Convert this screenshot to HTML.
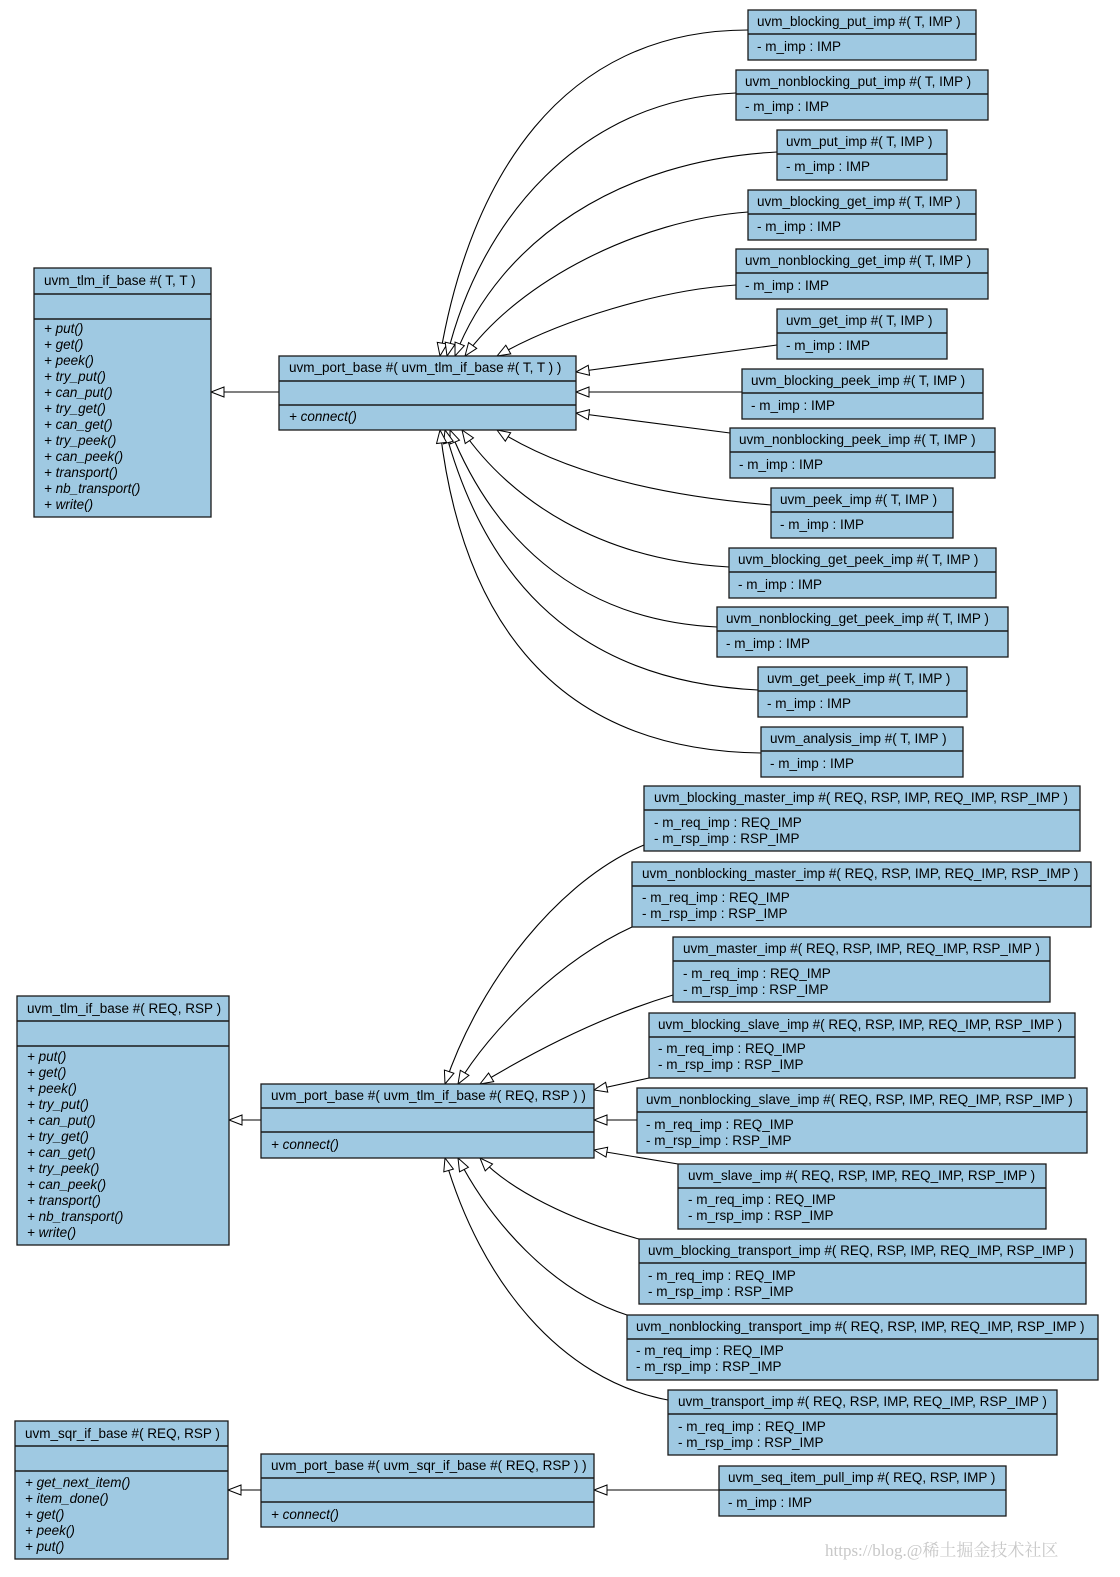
<!DOCTYPE html>
<html><head><meta charset="utf-8"><style>
html,body{margin:0;padding:0;background:#fff;}
svg{display:block;}
text{font-family:"Liberation Sans",sans-serif;font-size:13.5px;fill:#000;}
.i{font-style:italic;}
rect{fill:#9fc9e2;stroke:#1a1a1a;stroke-width:1.3;}
line.d{stroke:#1a1a1a;stroke-width:1.6;}
path.e{fill:none;stroke:#000;stroke-width:1.1;marker-end:url(#tri);}
</style></head><body>
<svg width="1120" height="1577" viewBox="0 0 1120 1577" xmlns="http://www.w3.org/2000/svg">
<defs>
<marker id="tri" markerUnits="userSpaceOnUse" markerWidth="16" markerHeight="14" refX="14" refY="6" orient="auto">
<path d="M1,1 L14,6 L1,11 Z" fill="#fff" stroke="#000" stroke-width="1"/>
</marker>
</defs>

<path class="e" d="M748,30 C560,30 470,180 440,356"/>
<path class="e" d="M736,93 C580,100 480,220 447,356"/>
<path class="e" d="M777,152 C620,160 500,240 455,356"/>
<path class="e" d="M748,212 C640,220 520,280 465,356"/>
<path class="e" d="M736,285 C660,290 560,320 497,356"/>
<path class="e" d="M777,345 L576,372"/>
<path class="e" d="M742,392 L576,392"/>
<path class="e" d="M730,433 L576,413"/>
<path class="e" d="M771,505 C650,495 560,470 497,430"/>
<path class="e" d="M729,567 C600,560 510,500 462,430"/>
<path class="e" d="M717,627 C570,620 490,530 450,430"/>
<path class="e" d="M758,690 C560,680 480,560 445,430"/>
<path class="e" d="M761,753 C540,750 460,600 440,430"/>
<path class="e" d="M279,392 L211,392"/>

<path class="e" d="M644,845 C560,880 480,980 445,1084"/>
<path class="e" d="M632,927 C560,960 490,1030 458,1084"/>
<path class="e" d="M673,995 C590,1020 520,1060 480,1084"/>
<path class="e" d="M649,1078 L594,1090"/>
<path class="e" d="M637,1120 L594,1120"/>
<path class="e" d="M678,1164 L594,1150"/>
<path class="e" d="M639,1239 C570,1220 510,1190 480,1158"/>
<path class="e" d="M627,1315 C550,1290 490,1220 458,1158"/>
<path class="e" d="M668,1400 C560,1380 480,1280 445,1158"/>
<path class="e" d="M261,1120 L229,1120"/>

<path class="e" d="M261,1490 L228,1490"/>
<path class="e" d="M719,1490 L594,1490"/>

<rect x="34" y="268" width="177" height="249"/>
<line class="d" x1="34" y1="294" x2="211" y2="294"/><line class="d" x1="34" y1="319" x2="211" y2="319"/>
<text x="44" y="285">uvm_tlm_if_base #( T, T )</text>
<text class="i" x="44" y="333">+ put()</text><text class="i" x="44" y="349">+ get()</text><text class="i" x="44" y="365">+ peek()</text><text class="i" x="44" y="381">+ try_put()</text><text class="i" x="44" y="397">+ can_put()</text><text class="i" x="44" y="413">+ try_get()</text><text class="i" x="44" y="429">+ can_get()</text><text class="i" x="44" y="445">+ try_peek()</text><text class="i" x="44" y="461">+ can_peek()</text><text class="i" x="44" y="477">+ transport()</text><text class="i" x="44" y="493">+ nb_transport()</text><text class="i" x="44" y="509">+ write()</text>

<rect x="279" y="356" width="297" height="74"/>
<line class="d" x1="279" y1="381" x2="576" y2="381"/><line class="d" x1="279" y1="405" x2="576" y2="405"/>
<text x="289" y="372">uvm_port_base #( uvm_tlm_if_base #( T, T ) )</text>
<text class="i" x="289" y="421">+ connect()</text>

<g>
<rect x="748" y="10" width="228" height="50"/><line class="d" x1="748" y1="34" x2="976" y2="34"/><text x="757" y="26">uvm_blocking_put_imp #( T, IMP )</text><text x="757" y="51">- m_imp : IMP</text>
<rect x="736" y="70" width="252" height="50"/><line class="d" x1="736" y1="94" x2="988" y2="94"/><text x="745" y="86">uvm_nonblocking_put_imp #( T, IMP )</text><text x="745" y="111">- m_imp : IMP</text>
<rect x="777" y="130" width="170" height="50"/><line class="d" x1="777" y1="154" x2="947" y2="154"/><text x="786" y="146">uvm_put_imp #( T, IMP )</text><text x="786" y="171">- m_imp : IMP</text>
<rect x="748" y="190" width="228" height="50"/><line class="d" x1="748" y1="214" x2="976" y2="214"/><text x="757" y="206">uvm_blocking_get_imp #( T, IMP )</text><text x="757" y="231">- m_imp : IMP</text>
<rect x="736" y="249" width="252" height="50"/><line class="d" x1="736" y1="273" x2="988" y2="273"/><text x="745" y="265">uvm_nonblocking_get_imp #( T, IMP )</text><text x="745" y="290">- m_imp : IMP</text>
<rect x="777" y="309" width="170" height="50"/><line class="d" x1="777" y1="333" x2="947" y2="333"/><text x="786" y="325">uvm_get_imp #( T, IMP )</text><text x="786" y="350">- m_imp : IMP</text>
<rect x="742" y="369" width="241" height="50"/><line class="d" x1="742" y1="393" x2="983" y2="393"/><text x="751" y="385">uvm_blocking_peek_imp #( T, IMP )</text><text x="751" y="410">- m_imp : IMP</text>
<rect x="730" y="428" width="265" height="50"/><line class="d" x1="730" y1="452" x2="995" y2="452"/><text x="739" y="444">uvm_nonblocking_peek_imp #( T, IMP )</text><text x="739" y="469">- m_imp : IMP</text>
<rect x="771" y="488" width="182" height="50"/><line class="d" x1="771" y1="512" x2="953" y2="512"/><text x="780" y="504">uvm_peek_imp #( T, IMP )</text><text x="780" y="529">- m_imp : IMP</text>
<rect x="729" y="548" width="267" height="50"/><line class="d" x1="729" y1="572" x2="996" y2="572"/><text x="738" y="564">uvm_blocking_get_peek_imp #( T, IMP )</text><text x="738" y="589">- m_imp : IMP</text>
<rect x="717" y="607" width="291" height="50"/><line class="d" x1="717" y1="631" x2="1008" y2="631"/><text x="726" y="623">uvm_nonblocking_get_peek_imp #( T, IMP )</text><text x="726" y="648">- m_imp : IMP</text>
<rect x="758" y="667" width="209" height="50"/><line class="d" x1="758" y1="691" x2="967" y2="691"/><text x="767" y="683">uvm_get_peek_imp #( T, IMP )</text><text x="767" y="708">- m_imp : IMP</text>
<rect x="761" y="727" width="202" height="50"/><line class="d" x1="761" y1="751" x2="963" y2="751"/><text x="770" y="743">uvm_analysis_imp #( T, IMP )</text><text x="770" y="768">- m_imp : IMP</text>
</g>

<rect x="17" y="996" width="212" height="249"/>
<line class="d" x1="17" y1="1021" x2="229" y2="1021"/><line class="d" x1="17" y1="1046" x2="229" y2="1046"/>
<text x="27" y="1013">uvm_tlm_if_base #( REQ, RSP )</text>
<text class="i" x="27" y="1061">+ put()</text><text class="i" x="27" y="1077">+ get()</text><text class="i" x="27" y="1093">+ peek()</text><text class="i" x="27" y="1109">+ try_put()</text><text class="i" x="27" y="1125">+ can_put()</text><text class="i" x="27" y="1141">+ try_get()</text><text class="i" x="27" y="1157">+ can_get()</text><text class="i" x="27" y="1173">+ try_peek()</text><text class="i" x="27" y="1189">+ can_peek()</text><text class="i" x="27" y="1205">+ transport()</text><text class="i" x="27" y="1221">+ nb_transport()</text><text class="i" x="27" y="1237">+ write()</text>

<rect x="261" y="1084" width="333" height="74"/>
<line class="d" x1="261" y1="1108" x2="594" y2="1108"/><line class="d" x1="261" y1="1132" x2="594" y2="1132"/>
<text x="271" y="1100">uvm_port_base #( uvm_tlm_if_base #( REQ, RSP ) )</text>
<text class="i" x="271" y="1149">+ connect()</text>

<g>
<rect x="644" y="786" width="436" height="65"/><line class="d" x1="644" y1="810" x2="1080" y2="810"/><text x="654" y="802">uvm_blocking_master_imp #( REQ, RSP, IMP, REQ_IMP, RSP_IMP )</text><text x="654" y="827">- m_req_imp : REQ_IMP</text><text x="654" y="843">- m_rsp_imp : RSP_IMP</text>
<rect x="632" y="862" width="459" height="65"/><line class="d" x1="632" y1="886" x2="1091" y2="886"/><text x="642" y="878">uvm_nonblocking_master_imp #( REQ, RSP, IMP, REQ_IMP, RSP_IMP )</text><text x="642" y="902">- m_req_imp : REQ_IMP</text><text x="642" y="918">- m_rsp_imp : RSP_IMP</text>
<rect x="673" y="937" width="377" height="65"/><line class="d" x1="673" y1="961" x2="1050" y2="961"/><text x="683" y="953">uvm_master_imp #( REQ, RSP, IMP, REQ_IMP, RSP_IMP )</text><text x="683" y="978">- m_req_imp : REQ_IMP</text><text x="683" y="994">- m_rsp_imp : RSP_IMP</text>
<rect x="649" y="1013" width="426" height="65"/><line class="d" x1="649" y1="1037" x2="1075" y2="1037"/><text x="658" y="1029">uvm_blocking_slave_imp #( REQ, RSP, IMP, REQ_IMP, RSP_IMP )</text><text x="658" y="1053">- m_req_imp : REQ_IMP</text><text x="658" y="1069">- m_rsp_imp : RSP_IMP</text>
<rect x="637" y="1088" width="450" height="65"/><line class="d" x1="637" y1="1112" x2="1087" y2="1112"/><text x="646" y="1104">uvm_nonblocking_slave_imp #( REQ, RSP, IMP, REQ_IMP, RSP_IMP )</text><text x="646" y="1129">- m_req_imp : REQ_IMP</text><text x="646" y="1145">- m_rsp_imp : RSP_IMP</text>
<rect x="678" y="1164" width="368" height="65"/><line class="d" x1="678" y1="1188" x2="1046" y2="1188"/><text x="688" y="1180">uvm_slave_imp #( REQ, RSP, IMP, REQ_IMP, RSP_IMP )</text><text x="688" y="1204">- m_req_imp : REQ_IMP</text><text x="688" y="1220">- m_rsp_imp : RSP_IMP</text>
<rect x="639" y="1239" width="447" height="65"/><line class="d" x1="639" y1="1263" x2="1086" y2="1263"/><text x="648" y="1255">uvm_blocking_transport_imp #( REQ, RSP, IMP, REQ_IMP, RSP_IMP )</text><text x="648" y="1280">- m_req_imp : REQ_IMP</text><text x="648" y="1296">- m_rsp_imp : RSP_IMP</text>
<rect x="627" y="1315" width="471" height="65"/><line class="d" x1="627" y1="1339" x2="1098" y2="1339"/><text x="636" y="1331">uvm_nonblocking_transport_imp #( REQ, RSP, IMP, REQ_IMP, RSP_IMP )</text><text x="636" y="1355">- m_req_imp : REQ_IMP</text><text x="636" y="1371">- m_rsp_imp : RSP_IMP</text>
<rect x="668" y="1390" width="389" height="65"/><line class="d" x1="668" y1="1414" x2="1057" y2="1414"/><text x="678" y="1406">uvm_transport_imp #( REQ, RSP, IMP, REQ_IMP, RSP_IMP )</text><text x="678" y="1431">- m_req_imp : REQ_IMP</text><text x="678" y="1447">- m_rsp_imp : RSP_IMP</text>
</g>

<rect x="15" y="1421" width="213" height="138"/>
<line class="d" x1="15" y1="1446" x2="228" y2="1446"/><line class="d" x1="15" y1="1471" x2="228" y2="1471"/>
<text x="25" y="1438">uvm_sqr_if_base #( REQ, RSP )</text>
<text class="i" x="25" y="1487">+ get_next_item()</text><text class="i" x="25" y="1503">+ item_done()</text><text class="i" x="25" y="1519">+ get()</text><text class="i" x="25" y="1535">+ peek()</text><text class="i" x="25" y="1551">+ put()</text>

<rect x="261" y="1454" width="333" height="73"/>
<line class="d" x1="261" y1="1478" x2="594" y2="1478"/><line class="d" x1="261" y1="1502" x2="594" y2="1502"/>
<text x="271" y="1470">uvm_port_base #( uvm_sqr_if_base #( REQ, RSP ) )</text>
<text class="i" x="271" y="1519">+ connect()</text>

<rect x="719" y="1466" width="287" height="50"/><line class="d" x1="719" y1="1490" x2="1006" y2="1490"/>
<text x="728" y="1482">uvm_seq_item_pull_imp #( REQ, RSP, IMP )</text><text x="728" y="1507">- m_imp : IMP</text>

<text x="825" y="1556" style="font-family:'Liberation Serif','Noto Serif CJK SC',serif;font-size:17px;fill:#c8c8c8">https://blog.@稀土掘金技术社区</text>
</svg>
</body></html>
